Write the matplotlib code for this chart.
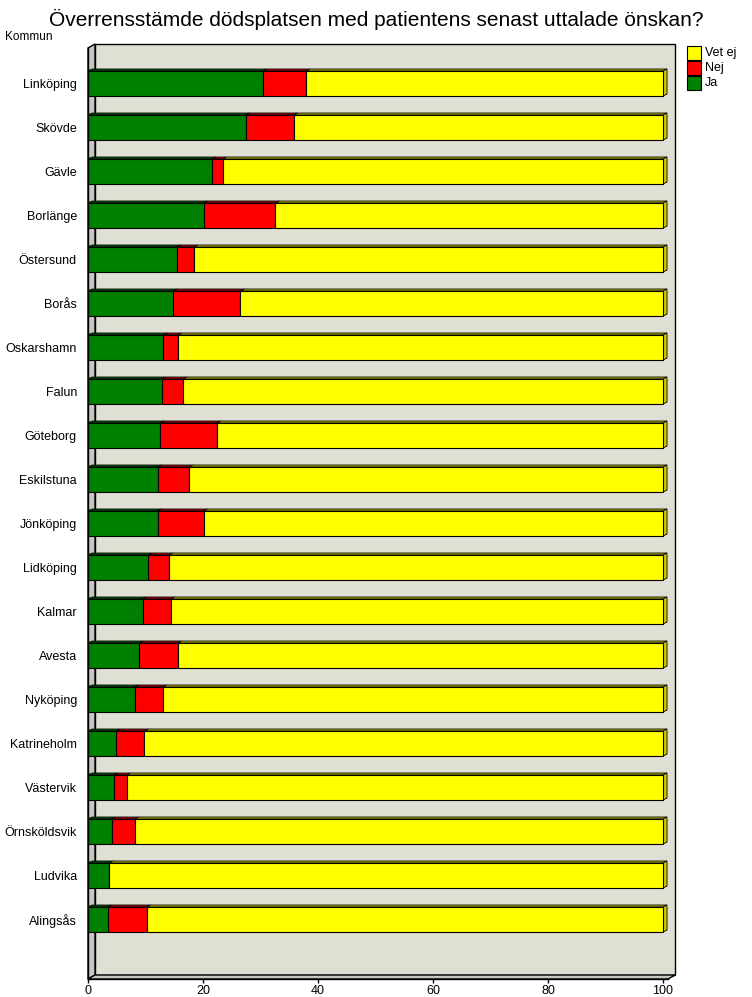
import numpy as np
import matplotlib
matplotlib.use("Agg")
import matplotlib.pyplot as plt
from matplotlib.patches import Polygon, Rectangle
from matplotlib.colors import to_rgb

plt.rcParams['font.family'] = ['Liberation Sans', 'DejaVu Sans']

kommuner = ['Linköping', 'Skövde', 'Gävle', 'Borlänge', 'Östersund', 'Borås',
            'Oskarshamn', 'Falun', 'Göteborg', 'Eskilstuna', 'Jönköping',
            'Lidköping', 'Kalmar', 'Avesta', 'Nyköping', 'Katrineholm',
            'Västervik', 'Örnsköldsvik', 'Ludvika', 'Alingsås']
ja = [30.4, 27.4, 21.5, 20.1, 15.4, 14.8, 13.1, 12.8, 12.6, 12.2, 12.1,
      10.5, 9.5, 8.9, 8.1, 4.9, 4.5, 4.1, 3.6, 3.4]
nej = [7.5, 8.4, 1.9, 12.5, 3.0, 11.7, 2.5, 3.7, 9.8, 5.3, 8.0,
       3.5, 4.9, 6.7, 4.9, 4.9, 2.2, 4.0, 0.0, 6.8]
vet_ej = [62.1, 64.2, 76.6, 67.4, 81.6, 73.5, 84.4, 83.5, 77.6, 82.5, 79.9,
          86.0, 85.6, 84.4, 87.0, 90.2, 93.3, 91.9, 96.4, 89.8]
serier = ['Ja', 'Nej', 'Vet ej']
farger = ['#008000', '#ff0000', '#ffff00']
xticks = [0, 20, 40, 60, 80, 100]

W, H = 752, 997
fig = plt.figure(figsize=(W / 100, H / 100), dpi=100)

# front plane of the 3D box (pixels): x 88..668, y 48..979
sx = 5.75          # px per percent
sy = 44.0          # px per category
xmax = 100.9
ytop, ybot = (48 - 83.5) / sy, (979 - 83.5) / sy
ax = fig.add_axes([88 / W, (H - 979) / H, xmax * sx / W, (979 - 48) / H])
ax.set_xlim(0, xmax)
ax.set_ylim(ybot, ytop)

# depth of walls and bars
wdx, wdy = 7 / sx, 4 / sy
bdx, bdy = 4 / sx, 2 / sy

wall = '#e0dfd4'
side = '#c8c8c0'
ax.set_facecolor('none')
ax.add_patch(Rectangle((wdx, ytop - wdy), 102.1 - wdx, (ybot - wdy) - (ytop - wdy),
                       facecolor=wall, edgecolor='black', lw=1, clip_on=False, zorder=0))
ax.add_patch(Polygon([(0, ytop), (wdx, ytop - wdy), (wdx, ybot - wdy), (0, ybot)],
                     facecolor=side, edgecolor='black', lw=1, clip_on=False, zorder=0.5))
ax.add_patch(Polygon([(0, ybot), (wdx, ybot - wdy), (102.1, ybot - wdy), (xmax, ybot)],
                     facecolor=side, edgecolor='black', lw=1, clip_on=False, zorder=0.5))


def darker(c, f=0.7):
    r, g, b = to_rgb(c)
    return (r * f, g * f, b * f)


y = np.arange(len(kommuner))
h = 25 / sy
left = np.zeros(len(kommuner))
for vals, col in zip([ja, nej, vet_ej], farger):
    vals = np.array(vals)
    ax.barh(y, vals, left=left, height=h, color=col, edgecolor='black',
            linewidth=0.8, zorder=3)
    for yi, l, w in zip(y, left, vals):
        if w <= 0:
            continue
        t = yi - h / 2
        ax.add_patch(Polygon([(l, t), (l + bdx, t - bdy), (l + w + bdx, t - bdy), (l + w, t)],
                             facecolor=darker(col), edgecolor='black', lw=0.6,
                             clip_on=False, zorder=2.5))
    left = left + vals

# right end faces
for yi, r in zip(y, left):
    t, b = yi - h / 2, yi + h / 2
    ax.add_patch(Polygon([(r, t), (r + bdx, t - bdy), (r + bdx, b - bdy), (r, b)],
                         facecolor=darker(farger[-1], 0.8), edgecolor='black', lw=0.6,
                         clip_on=False, zorder=2.5))

for s in ['top', 'right']:
    ax.spines[s].set_visible(False)
for s in ['left', 'bottom']:
    ax.spines[s].set_linewidth(1)
    ax.spines[s].set_zorder(4)

ax.set_yticks(y)
ax.set_yticklabels(kommuner, fontsize=9)
ax.tick_params(axis='y', length=0, pad=8)
ax.set_xticks(xticks)
ax.set_xticklabels([str(t) for t in xticks], fontsize=9)
ax.tick_params(axis='x', length=3, width=1, pad=1, direction='out')

fig.text(0.5, 1 - 19 / H, 'Överrensstämde dödsplatsen med patientens senast uttalade önskan?',
         ha='center', va='center', fontsize=15)
fig.text(5 / W, 1 - 37 / H, 'Kommun', ha='left', va='center', fontsize=8.5)

# legend
for i, (name, col) in enumerate(zip(serier[::-1], farger[::-1])):
    top = 46 + i * 15
    fig.add_artist(Rectangle((687 / W, 1 - (top + 14) / H), 14 / W, 14 / H,
                             facecolor=col, edgecolor='black', lw=0.8,
                             transform=fig.transFigure))
    fig.text(705 / W, 1 - (top + 7) / H, name, ha='left', va='center', fontsize=9)

fig.savefig('out.png', dpi=100)
